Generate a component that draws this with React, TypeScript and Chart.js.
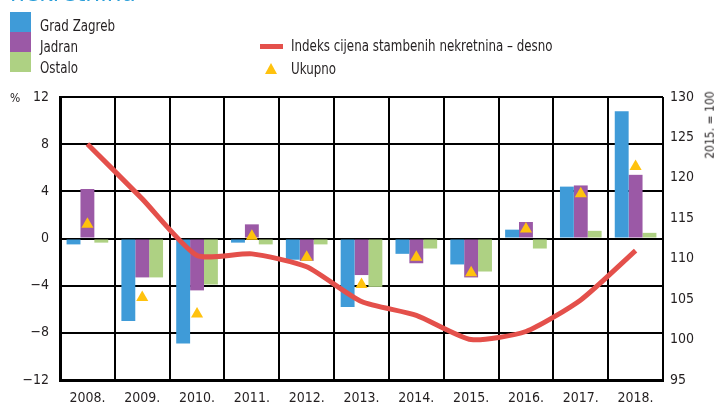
import React, { useEffect, useRef } from "react";
import { Chart, registerables } from "chart.js";

Chart.register(...registerables);

const years = ["2008.", "2009.", "2010.", "2011.", "2012.", "2013.", "2014.", "2015.", "2016.", "2017.", "2018."];
const gradZagreb = [-0.5, -7.0, -8.9, -0.35, -1.8, -5.8, -1.3, -2.2, 0.75, 4.4, 10.8];
const jadran = [4.2, -3.3, -4.4, 1.2, -1.9, -3.1, -2.1, -3.3, 1.4, 4.5, 5.4];
const ostalo = [-0.35, -3.3, -3.9, -0.5, -0.5, -4.1, -0.85, -2.8, -0.85, 0.65, 0.48];
const ukupno = [1.2, -5.0, -6.4, 0.2, -1.6, -3.9, -1.6, -2.9, 0.8, 3.8, 6.1];
const indeks = [124.2, 117.4, 110.4, 110.6, 109.0, 104.7, 103.0, 100.0, 101.0, 104.9, 111.0];

const FONT = "'Liberation Sans Narrow', 'DejaVu Sans Condensed', 'Roboto', sans-serif";
const TEXT = "#231f20";

export default function App() {
  const ref = useRef<HTMLCanvasElement | null>(null);
  useEffect(() => {
    if (!ref.current) return;
    const chart = new Chart(ref.current, {
      type: "bar",
      data: {
        labels: years,
        datasets: [
          {
            type: "line",
            label: "Indeks cijena stambenih nekretnina – desno",
            data: indeks,
            yAxisID: "y1",
            borderColor: "#e4504b",
            borderWidth: 5,
            pointRadius: 0,
            tension: 0.2,
            order: 0,
          } as any,
          {
            type: "line",
            label: "Ukupno",
            data: ukupno,
            yAxisID: "y",
            showLine: false,
            pointStyle: "triangle",
            pointRadius: 7,
            backgroundColor: "#ffc20e",
            borderColor: "#ffc20e",
            borderWidth: 0,
            order: 1,
          } as any,
          { label: "Grad Zagreb", data: gradZagreb, backgroundColor: "#3f9bd8", yAxisID: "y", order: 2 },
          { label: "Jadran", data: jadran, backgroundColor: "#9b59a6", yAxisID: "y", order: 2 },
          { label: "Ostalo", data: ostalo, backgroundColor: "#aed183", yAxisID: "y", order: 2 },
        ],
      },
      options: {
        responsive: false,
        animation: false,
        layout: { padding: { top: 97, left: 0, right: 0, bottom: 0 } },
        plugins: { legend: { display: false }, tooltip: { enabled: false } },
        datasets: { bar: { categoryPercentage: 0.76, barPercentage: 1.0 } },
        scales: {
          x: {
            grid: { color: "#000", lineWidth: 2, offset: true, drawTicks: false },
            border: { color: "#000", width: 3 },
            ticks: { color: TEXT, font: { family: FONT, size: 14 }, padding: 10, maxRotation: 0 },
            afterFit: (s: any) => { s.height = 25; },
          },
          y: {
            position: "left",
            min: -12,
            max: 12,
            grid: { color: "#000", lineWidth: 2, drawTicks: false },
            border: { color: "#000", width: 3 },
            ticks: {
              stepSize: 4,
              color: TEXT,
              font: { family: FONT, size: 14 },
              padding: 11,
              callback: (v: any) => String(v).replace("-", "−"),
            },
            afterFit: (s: any) => { s.width = 60; },
          },
          y1: {
            position: "right",
            min: 95,
            max: 130,
            grid: { display: false, drawTicks: false },
            border: { display: false },
            ticks: { stepSize: 5, color: TEXT, font: { family: FONT, size: 14 }, padding: 7 },
            afterFit: (s: any) => { s.width = 52; },
          },
        },
      },
    });
    return () => chart.destroy();
  }, []);

  const txt: React.CSSProperties = {
    position: "absolute", fontFamily: FONT, fontSize: 15, color: TEXT, whiteSpace: "nowrap",
    lineHeight: "16px", transform: "scaleX(0.88)", transformOrigin: "left center",
  };
  const box = (top: number, color: string): React.CSSProperties => ({ position: "absolute", left: 10, top, width: 21, height: 20, background: color });

  return (
    <div style={{ position: "absolute", left: 0, top: 0, width: 715, height: 405, overflow: "hidden", background: "#fff" }}>
      <canvas ref={ref} width={715} height={405} style={{ position: "absolute", left: 0, top: 0 }} />
      <div style={{ ...txt, left: 10, top: -21, fontSize: 26, lineHeight: "26px", color: "#2b9fd9", transform: "none" }}>nekretnina</div>
      <div style={box(12, "#3f9bd8")} />
      <div style={box(32, "#9b59a6")} />
      <div style={box(52, "#aed183")} />
      <div style={{ ...txt, left: 40, top: 18 }}>Grad Zagreb</div>
      <div style={{ ...txt, left: 40, top: 39 }}>Jadran</div>
      <div style={{ ...txt, left: 40, top: 60 }}>Ostalo</div>
      <div style={{ position: "absolute", left: 260, top: 44, width: 23, height: 5, background: "#e4504b" }} />
      <div style={{ ...txt, left: 291, top: 38 }}>Indeks cijena stambenih nekretnina – desno</div>
      <div style={{ position: "absolute", left: 265, top: 63, width: 0, height: 0, borderLeft: "6px solid transparent", borderRight: "6px solid transparent", borderBottom: "11px solid #ffc20e" }} />
      <div style={{ ...txt, left: 291, top: 61 }}>Ukupno</div>
      <div style={{ ...txt, left: 10, top: 90, fontSize: 12, transform: "none" }}>%</div>
      <div style={{ ...txt, left: 676, top: 117, fontSize: 12, transform: "rotate(-90deg)", transformOrigin: "center" }}>2015. = 100</div>
    </div>
  );
}
